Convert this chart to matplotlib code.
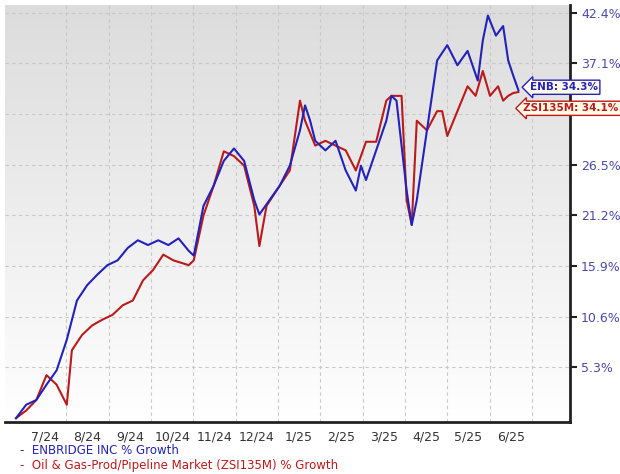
import matplotlib.pyplot as plt
import numpy as np
from matplotlib.colors import LinearSegmentedColormap

# x in months since Jul 1 2024, values in % growth
enb_x = [-0.19, 0.05, 0.29, 0.53, 0.77, 1.01, 1.25, 1.49, 1.73, 1.97, 2.21, 2.45, 2.69, 2.93, 3.17,
         3.41, 3.65, 3.89, 4.01, 4.24, 4.48, 4.72, 4.96, 5.20, 5.44, 5.56, 5.80, 6.04, 6.28, 6.52,
         6.64, 6.76, 6.88, 7.12, 7.36, 7.60, 7.84, 7.96, 8.08, 8.32, 8.56, 8.68, 8.80, 9.04, 9.16,
         9.28, 9.52, 9.76, 10.00, 10.24, 10.48, 10.72, 10.84, 10.96, 11.15, 11.32, 11.44, 11.56, 11.68]
enb_y = [0.0, 1.4, 1.9, 3.5, 5.0, 8.2, 12.3, 13.9, 15.0, 16.0, 16.5, 17.8, 18.6, 18.1, 18.6,
         18.1, 18.8, 17.5, 17.0, 22.2, 24.3, 26.9, 28.2, 26.9, 22.8, 21.3, 22.8, 24.3, 26.4, 30.1,
         32.7, 31.1, 29.0, 28.0, 29.0, 25.9, 23.8, 26.4, 24.9, 28.0, 31.1, 33.7, 33.2, 23.8, 20.2,
         22.8, 30.1, 37.4, 39.0, 36.9, 38.4, 35.3, 39.5, 42.1, 40.0, 41.0, 37.4, 35.8, 34.3]
zsi_x = [-0.19, 0.05, 0.29, 0.53, 0.77, 1.01, 1.13, 1.37, 1.61, 1.85, 2.09, 2.33, 2.57, 2.81, 3.05,
         3.29, 3.53, 3.89, 4.01, 4.24, 4.48, 4.72, 4.96, 5.20, 5.44, 5.56, 5.73, 6.04, 6.28, 6.52,
         6.64, 6.88, 7.12, 7.36, 7.60, 7.84, 8.08, 8.32, 8.56, 8.68, 8.92, 9.04, 9.16, 9.28, 9.52,
         9.76, 9.88, 10.00, 10.24, 10.48, 10.67, 10.84, 11.01, 11.20, 11.32, 11.44, 11.56, 11.68]
zsi_y = [0.0, 0.8, 1.9, 4.5, 3.5, 1.4, 7.1, 8.7, 9.7, 10.3, 10.8, 11.8, 12.3, 14.4, 15.5,
         17.1, 16.5, 16.0, 16.5, 21.2, 24.3, 27.9, 27.4, 26.4, 22.2, 18.0, 22.2, 24.3, 25.9, 33.2,
         31.1, 28.5, 29.0, 28.5, 28.0, 25.9, 28.9, 28.9, 33.2, 33.7, 33.7, 22.8, 20.2, 31.1, 30.1,
         32.1, 32.1, 29.5, 32.1, 34.7, 33.7, 36.3, 33.7, 34.7, 33.2, 33.7, 34.0, 34.1]

month_labels = ['7/24', '8/24', '9/24', '10/24', '11/24', '12/24', '1/25', '2/25',
                '3/25', '4/25', '5/25', '6/25']
ytick_vals = [5.3, 10.6, 15.9, 21.2, 26.5, 31.8, 37.1, 42.4]

blue = '#2222bb'
red = '#bb1a1a'
tick_col = '#4a4aa8'

fig = plt.figure(figsize=(6.2, 4.74), dpi=100)
fig.patch.set_facecolor('white')
ax = fig.add_axes([5 / 620, 1 - 422 / 474, 565 / 620, 417 / 474])
bg = LinearSegmentedColormap.from_list('bg', ['#ffffff', '#dcdcdc'])
grad = np.linspace(0, 1, 256).reshape(-1, 1)
ax.imshow(grad, extent=[-0.45, 12.9, -0.4, 43.2], aspect='auto', cmap=bg,
          origin='lower', zorder=0)
ax.set_xlim(-0.45, 12.9)
ax.set_ylim(-0.4, 43.2)

for m in range(1, 13):
    ax.axvline(m, color='#c8c8c8', lw=0.8, ls=(0, (3, 3)), zorder=1)
for v in ytick_vals:
    ax.axhline(v, color='#c8c8c8', lw=0.8, ls=(0, (3, 3)), zorder=1)

ax.plot(zsi_x, zsi_y, color=red, lw=1.5, zorder=3)
ax.plot(enb_x, enb_y, color=blue, lw=1.5, zorder=4)

ax.set_xticks([m + 0.5 for m in range(12)])
ax.set_xticklabels(month_labels, fontsize=9, color='#333333')
ax.tick_params(axis='x', length=0, pad=6)
ax.yaxis.tick_right()
ax.set_yticks(ytick_vals)
# the 31.8% label sits behind the value boxes in the original
ax.set_yticklabels(['' if v == 31.8 else '%.1f%%' % v for v in ytick_vals],
                   fontsize=9, color=tick_col)
ax.tick_params(axis='y', direction='out', length=5, width=1.5, pad=3, color='#222222')
for s in ['top', 'left']:
    ax.spines[s].set_visible(False)
for s in ['right', 'bottom']:
    ax.spines[s].set_linewidth(2)
    ax.spines[s].set_color('#222222')

ax.annotate('ENB: %.1f%%' % enb_y[-1], xy=(enb_x[-1], enb_y[-1]), xytext=(11.95, 34.6),
            fontsize=7.5, color=blue, fontweight='bold', va='center', annotation_clip=False,
            bbox=dict(boxstyle='larrow,pad=0.2', fc='#fffbe6', ec=blue, lw=1), zorder=6)
ax.annotate('ZSI135M: %.1f%%' % zsi_y[-1], xy=(zsi_x[-1], zsi_y[-1]), xytext=(11.8, 32.4),
            fontsize=7.5, color=red, fontweight='bold', va='center', annotation_clip=False,
            bbox=dict(boxstyle='larrow,pad=0.2', fc='#fffbe6', ec=red, lw=1), zorder=6)

fig.text(20 / 620, 1 - 450 / 474, '-  ENBRIDGE INC % Growth', color=blue, fontsize=8.5, va='center')
fig.text(20 / 620, 1 - 466 / 474, '-  Oil & Gas-Prod/Pipeline Market (ZSI135M) % Growth',
         color=red, fontsize=8.5, va='center')

fig.savefig('out.png', dpi=100)
